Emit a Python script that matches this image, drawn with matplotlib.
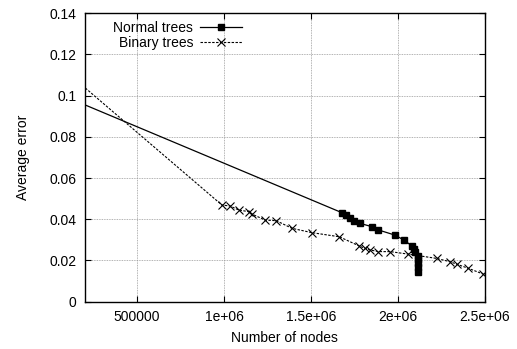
import matplotlib
matplotlib.use("Agg")
import matplotlib.pyplot as plt

# Normal trees: (nodes, average error); first point lies left of the visible range
normal_nodes = [100000, 1678000, 1703000, 1726000, 1751000, 1783000, 1851000,
                1889000, 1984000, 2036000, 2082000, 2092000, 2102000,
                2114000, 2116000, 2117000, 2118000, 2118000]
normal_err = [0.0990, 0.0432, 0.0421, 0.0404, 0.0393, 0.0380, 0.0364,
              0.0348, 0.0323, 0.0299, 0.0270, 0.0258, 0.0240,
              0.0222, 0.0205, 0.0188, 0.0168, 0.0146]

# Binary trees
binary_nodes = [100000, 988000, 1036000, 1084000, 1141000, 1161000, 1237000,
                1301000, 1391000, 1506000, 1664000, 1779000, 1812000,
                1841000, 1889000, 1956000, 2059000, 2224000, 2301000,
                2343000, 2406000, 2492000]
binary_err = [0.1110, 0.0469, 0.0464, 0.0445, 0.0437, 0.0425, 0.0396,
              0.0393, 0.0356, 0.0335, 0.0315, 0.0270, 0.0259,
              0.0251, 0.0243, 0.0243, 0.0231, 0.0210, 0.0194,
              0.0181, 0.0162, 0.0134]

xticks = [500000, 1000000, 1500000, 2000000, 2500000]
xtick_labels = ["500000", "1e+06", "1.5e+06", "2e+06", "2.5e+06"]
yticks = [0, 0.02, 0.04, 0.06, 0.08, 0.1, 0.12, 0.14]
ytick_labels = ["0", "0.02", "0.04", "0.06", "0.08", "0.1", "0.12", "0.14"]

plt.rcParams["font.family"] = ["Liberation Sans", "DejaVu Sans"]
FS = 10

fig = plt.figure(figsize=(5.17, 3.49), dpi=100)
ax = fig.add_axes([0.1644, 0.1355, 0.773, 0.827])

ax.plot(normal_nodes, normal_err, color="black", lw=0.9, marker="s",
        ms=5, mec="black", mfc="black", label="Normal trees")
ax.plot(binary_nodes, binary_err, color="black", lw=0.8, ls=(0, (2.2, 1.3)),
        marker="x", ms=5.5, mew=0.8, label="Binary trees")

ax.set_xlim(200000, 2500000)
ax.set_ylim(0, 0.14)
ax.set_xticks(xticks)
ax.set_xticklabels(xtick_labels)
ax.set_yticks(yticks)
ax.set_yticklabels(ytick_labels)
ax.tick_params(direction="in", top=True, right=True, length=4, width=0.8,
               labelsize=FS)
ax.tick_params(axis="y", pad=6)
ax.tick_params(axis="x", pad=6)
ax.grid(True, color="#999999", ls=(0, (1, 1)), lw=0.6)
for s in ax.spines.values():
    s.set_linewidth(1.0)

ax.set_xlabel("Number of nodes", fontsize=FS, labelpad=5)
ax.set_ylabel("Average error", fontsize=FS, labelpad=14)

leg = ax.legend(loc="upper left", bbox_to_anchor=(0.04, 1.015), frameon=False,
                markerfirst=False, fontsize=FS, handlelength=3.0,
                handletextpad=0.5, labelspacing=0.02)

fig.savefig("out.png", dpi=100)
